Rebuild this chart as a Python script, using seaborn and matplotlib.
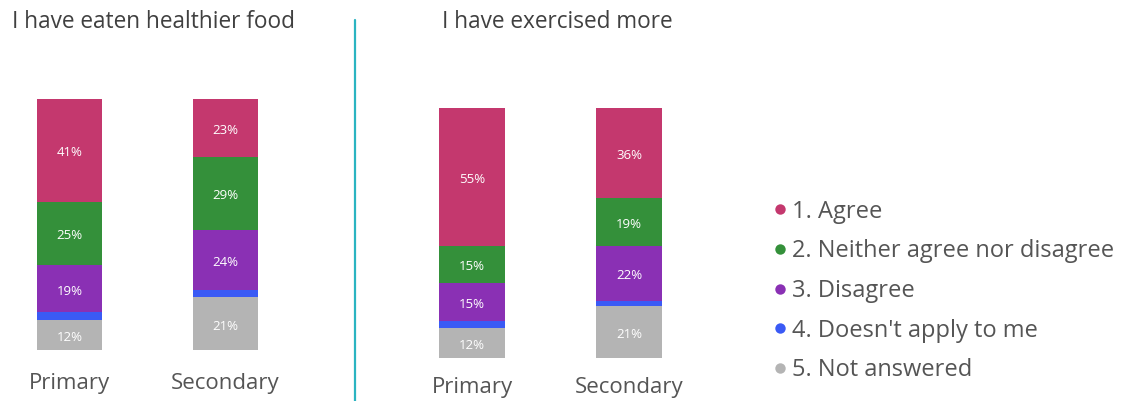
import matplotlib
matplotlib.use("Agg")
import matplotlib.pyplot as plt
from matplotlib.lines import Line2D
import seaborn as sns
import pandas as pd
import numpy as np

# Survey responses (percent of pupils), stacked top to bottom
responses = ["1. Agree", "2. Neither agree nor disagree", "3. Disagree",
             "4. Doesn't apply to me", "5. Not answered"]
schools = ["Primary", "Secondary"]

healthier_primary = [41, 25, 19, 3, 12]
healthier_secondary = [23, 29, 24, 3, 21]
exercise_primary = [55, 15, 15, 3, 12]
exercise_secondary = [36, 19, 22, 2, 21]

panel_titles = ["I have eaten healthier food", "I have exercised more"]

colors = ["#C4386E", "#34903A", "#8A30B4", "#3A5AF5", "#B4B4B4"]
label_shown = [True, True, True, False, True]

sns.set_theme(style="white")
plt.rcParams["font.family"] = ["Open Sans", "DejaVu Sans"]

W, H = 1124, 401
fig = plt.figure(figsize=(W / 100, H / 100), dpi=100)


def px_axes(left, bottom_y, width, top_y):
    """Create axes from pixel coordinates measured from the top-left."""
    return fig.add_axes([left / W, (H - bottom_y) / H, width / W, (bottom_y - top_y) / H])


panels = [
    (panel_titles[0], [healthier_primary, healthier_secondary]),
    (panel_titles[1], [exercise_primary, exercise_secondary]),
]

# axes geometry: (left px, bar bottom y, width px, bar top y, first bar centre, spacing, tick pad)
geoms = [
    (0, 350, 340, 99, 69.5, 156.0, 16.5),
    (360, 358, 330, 108, 472.0, 157.0, 14),
]
bar_width = 0.415

for (title, vals), (lpx, by, wpx, ty, c0, sp, pad) in zip(panels, geoms):
    ax = px_axes(lpx, by, wpx, ty)
    rows = []
    for school, v in zip(schools, vals):
        for resp, p in zip(responses, v):
            rows.append({"school": school, "response": resp, "pct": p})
    df = pd.DataFrame(rows)
    # cumulative height of each response and everything stacked beneath it
    df["top"] = df.groupby("school")["pct"].transform(lambda s: s[::-1].cumsum()[::-1])
    for resp, col in zip(responses, colors):
        sub = df[df["response"] == resp]
        sns.barplot(data=sub, x="school", y="top", order=schools, color=col,
                    saturation=1, width=bar_width, errorbar=None, ax=ax,
                    linewidth=0)
    for i, school in enumerate(schools):
        sub = df[df["school"] == school]
        for (_, r), show in zip(sub.iterrows(), label_shown):
            if show:
                ax.text(i, r["top"] - r["pct"] / 2 - 1, f"{r['pct']}%", ha="center",
                        va="center", color="white", fontsize=9.5)
    x_left = (lpx - c0) / sp
    ax.set_xlim(x_left, x_left + wpx / sp)
    ax.set_ylim(0, 100)
    ax.set_xlabel("")
    ax.set_ylabel("")
    ax.set_yticks([])
    ax.tick_params(axis="x", length=0, pad=pad, labelsize=16, labelcolor="#555555")
    for s in ax.spines.values():
        s.set_visible(False)
    ax.patch.set_alpha(0)

fig.text(12 / W, 1 - 22 / H, panel_titles[0], ha="left", va="center",
         fontsize=16.3, color="#404040")
fig.text(442 / W, 1 - 22 / H, panel_titles[1], ha="left", va="center",
         fontsize=16.3, color="#404040")

# vertical divider between the two panels
fig.add_artist(Line2D([355 / W, 355 / W], [0, 1 - 20 / H], transform=fig.transFigure,
                      color="#2BB4C1", linewidth=1.6))

handles = [Line2D([], [], marker="o", linestyle="", markersize=7.5,
                  markerfacecolor=c, markeredgewidth=0) for c in colors]
leg = fig.legend(handles, responses, loc="upper left",
                 bbox_to_anchor=(774 / W, 1 - 199.5 / H), frameon=False,
                 fontsize=17, labelcolor="#555555", handlelength=0.53,
                 handletextpad=0.24, labelspacing=0.665, borderpad=0, borderaxespad=0)

fig.savefig("out.png", dpi=100)
